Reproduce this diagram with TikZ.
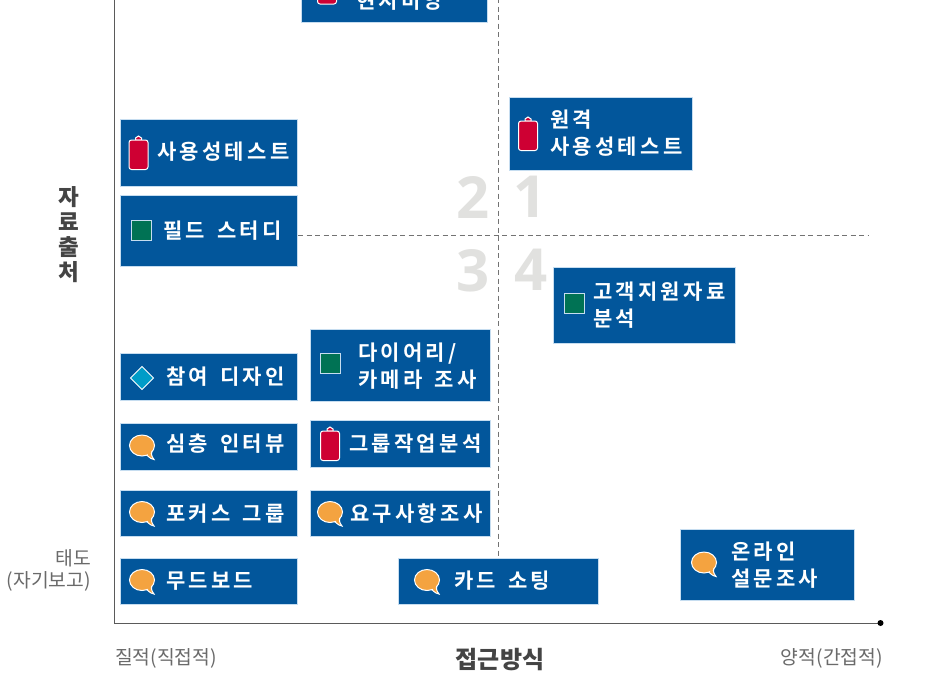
\documentclass[tikz,border=0pt]{standalone}
\usepackage{fontspec}
\setmainfont{Noto Sans CJK KR}
\newfontfamily\krb{Noto Sans CJK KR}[BoldFont={Noto Sans CJK KR Bold},LetterSpace=15.5,WordSpace=1.5]
\newfontfamily\krplain{Noto Sans CJK KR}
\newfontfamily\digitfont{Open Sans}
\definecolor{boxblue}{HTML}{02569B}
\definecolor{boxedge}{HTML}{C6DDF0}
\definecolor{axisgrey}{HTML}{5A5A5A}
\definecolor{numgrey}{HTML}{E1E1DF}
\definecolor{labgrey}{HTML}{6A6A6A}
\definecolor{headgrey}{HTML}{444444}
\definecolor{bubblec}{HTML}{F4A340}
\definecolor{clipred}{HTML}{CE0033}
\definecolor{sqgreen}{HTML}{007254}
\definecolor{diacyan}{HTML}{009CC8}
\tikzset{
  boxst/.style={draw=boxedge,line width=.8pt,fill=boxblue,inner sep=0pt,outer sep=0pt,rectangle},
  lab/.style={text=white,font=\krb\bfseries\fontsize{21}{27}\selectfont,align=left,inner sep=0pt,anchor=west},
  num/.style={text=numgrey,font=\digitfont\bfseries\fontsize{58}{58}\selectfont,inner sep=0pt},
  side/.style={text=labgrey,font=\krplain\fontsize{19.3}{23}\selectfont,inner sep=0pt},
  head/.style={text=headgrey,font=\krplain\bfseries\fontsize{22.5}{25}\selectfont,inner sep=0pt},
  headx/.style={text=headgrey,font=\krplain\bfseries\fontsize{24}{25}\selectfont,inner sep=0pt},
  dashline/.style={draw=axisgrey!85,line width=.8pt,dash pattern=on 5pt off 3.5pt},
  axisline/.style={draw=axisgrey,line width=1pt},
  bubblei/.pic={
    \filldraw[fill=bubblec,draw=white,line width=1pt] (3,8) .. controls (6,10) and (7,13) .. (12,14) .. controls (9,10) and (9,8) .. (10,5) -- cycle;
    \filldraw[fill=bubblec,draw=white,line width=1pt] (0,0) ellipse [x radius=12.5,y radius=10.5];
    \fill[bubblec] (4,7) -- (9,5) -- (8.5,10) -- (7,10) -- cycle;
  },
  clipi/.pic={
    \filldraw[fill=clipred,draw=white,line width=1pt] (-3,-13) -- (-3,-15) -- (0,-17) -- (3,-15) -- (3,-13) -- cycle;
    \filldraw[fill=clipred,draw=white,line width=1pt,rounded corners=2.5pt] (-9.5,-13) rectangle (9.5,16.5);
  },
  sqi/.pic={
    \filldraw[fill=sqgreen,draw=boxedge,line width=1pt] (-10,-10) rectangle (10,10);
  },
  diai/.pic={
    \filldraw[fill=diacyan,draw=white,line width=1pt] (-11.5,0) -- (0,-11.5) -- (11.5,0) -- (0,11.5) -- cycle;
  }
}
\newcommand{\bx}[8][0]{%
  \node[boxst,minimum width={(#5-#3)*1pt},minimum height={(#6-#4)*1pt}] (#2) at ({(#3+#5)/2},{(#4+#6)/2}) {};
  \node[lab] (#2-t) at (#7,{(#4+#6)/2+#1}) {#8};
}
\begin{document}
\begin{tikzpicture}[x=1pt,y=-1pt]
\path[clip] (0,0) rectangle (928,675);
\fill[white] (0,0) rectangle (928,675);
% quadrant digits
\node[num] (n2) at (473,197) {2};
\node[num] (n1) at (530,197) {1};
\node[num] (n3) at (473,271) {3};
\node[num] (n4) at (531,270) {4};
% axes
\coordinate (vtop) at (114.5,-2);
\coordinate (orig) at (114.5,623);
\coordinate (xend) at (880.5,623);
\draw[axisline] (vtop) -- (orig) -- (xend);
\fill[black] (xend) circle (3);
% dashed quadrant lines
\coordinate (dvt) at (498.5,-2);
\coordinate (dvb) at (498.5,558);
\coordinate (dhl) at (298,235.5);
\coordinate (dhr) at (868,235.5);
\draw[dashline] (dvt) -- (dvb);
\draw[dashline] (dhl) -- (dhr);
% boxes
\bx{top}{301.8}{-30}{487.8}{22.7}{356}{}
\node[lab] (top-t) at (356,0.5) {현지비앙};
\bx[-0.5]{usab}{120.8}{119}{297.8}{186}{157}{사용성테스트}
\bx[-0.5]{field}{120.8}{195}{297.8}{266.7}{163}{필드 스터디}
\bx[-0.5]{remote}{509.8}{97.7}{692.8}{170}{550}{원격\\사용성테스트}
\bx[-0.5]{cust}{553.8}{267.7}{735.8}{343}{593}{고객지원자료\\분석}
\bx{part}{120.8}{353.7}{297.8}{400}{166}{참여 디자인}
\bx[-3]{deep}{120.8}{423.7}{297.8}{470}{166}{심층 인터뷰}
\bx{focus}{120.8}{490}{297.8}{536.7}{166}{포커스 그룹}
\bx{mood}{120.8}{558}{297.8}{604}{166}{무드보드}
\bx{diary}{310.8}{329.7}{490.8}{401.7}{358}{다이어리/\\카메라 조사}
\bx{group}{310.8}{420.7}{490.8}{467}{349}{그룹작업분석}
\bx{req}{310.8}{490}{490.8}{536.7}{350}{요구사항조사}
\bx{card}{398.8}{558}{598.8}{604}{454}{카드 소팅}
\bx{online}{680.8}{529}{854.2}{600.7}{731}{온라인\\설문조사}
% icons
\pic at (327,-12.5) {clipi};
\pic at (138.5,153) {clipi};
\pic at (528,134) {clipi};
\pic at (330,444) {clipi};
\pic at (141.5,230.5) {sqi};
\pic at (330,363) {sqi};
\pic at (574,303.5) {sqi};
\pic at (142,378) {diai};
\pic at (142,445.5) {bubblei};
\pic at (142,512) {bubblei};
\pic at (142,580) {bubblei};
\pic at (330,512) {bubblei};
\pic at (427,580) {bubblei};
\pic at (704,562.5) {bubblei};
% axis labels
\node[side,anchor=east] (att1) at (91,558) {태도};
\node[side,anchor=east] (att2) at (91,581.5) {(자기보고)};
\node[side,anchor=west] (xl) at (115,658) {질적(직접적)};
\node[side,anchor=east] (xr) at (883,658) {양적(간접적)};
\node[headx] (xh) at (500,660) {접근방식};
\node[head] (y1) at (69,197) {자};
\node[head] (y2) at (69,222) {료};
\node[head] (y3) at (69,247) {출};
\node[head] (y4) at (69,272) {처};
\end{tikzpicture}
\end{document}
